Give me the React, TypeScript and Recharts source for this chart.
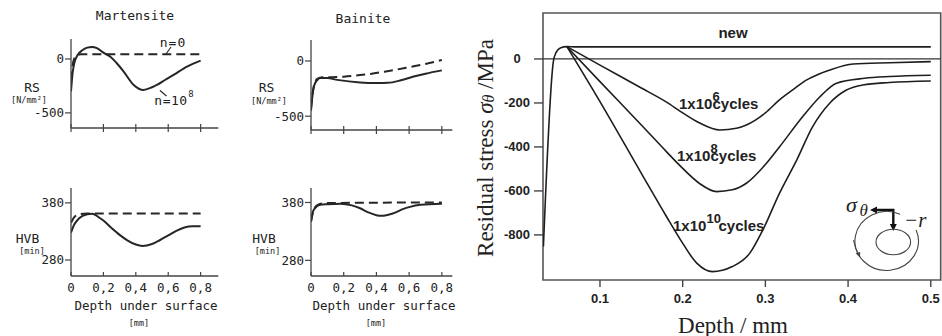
import { Line, LineChart, ReferenceArea, ReferenceLine, XAxis, YAxis } from "recharts";

const INK = "#222";
const MONO = "'DejaVu Sans Mono', monospace";
const SANS = "'Liberation Sans', Arial, sans-serif";
const SERIF = "'Liberation Serif', 'Times New Roman', serif";

// small panels (depth in mm)
const smallXTicks = [0, 0.2, 0.4, 0.6, 0.8];
const smallXLabels = ["0", "0,2", "0,4", "0,6", "0,8"];
const rsTicks = [0, -500];
const hvTicks = [380, 280];

const martRsSolidDepth = [0, 0.01, 0.02, 0.04, 0.07, 0.1, 0.13, 0.16, 0.2, 0.243, 0.28, 0.325, 0.387, 0.447, 0.5, 0.53, 0.58, 0.633, 0.716, 0.8];
const martRsSolid = [-300, -130, -40, 35, 80, 105, 112, 100, 58, 21, -35, -117, -241, -287, -262, -241, -195, -148, -71, -16];
const martRsDashDepth = [0, 0.01, 0.02, 0.04, 0.06, 0.1, 0.8];
const martRsDash = [-200, -60, 5, 35, 43, 43, 43];

const martHvSolidDepth = [0, 0.02, 0.05, 0.1, 0.13, 0.18, 0.2, 0.25, 0.3, 0.35, 0.4, 0.44, 0.5, 0.55, 0.6, 0.65, 0.7, 0.75, 0.8];
const martHvSolid = [328, 342, 353, 360, 361, 353, 349, 336, 324, 314, 307, 304.5, 308, 315, 323, 331, 337, 339, 339];
const martHvDashDepth = [0, 0.02, 0.05, 0.1, 0.8];
const martHvDash = [345, 355, 360, 361.5, 361.5];

const bainRsSolidDepth = [0, 0.01, 0.02, 0.04, 0.057, 0.1, 0.16, 0.3, 0.4, 0.47, 0.55, 0.628, 0.7, 0.8];
const bainRsSolid = [-450, -300, -220, -170, -155, -155, -171, -195, -200, -198, -175, -141, -115, -85];
const bainRsDashDepth = [0, 0.01, 0.02, 0.04, 0.07, 0.1, 0.16, 0.2, 0.3, 0.363, 0.45, 0.567, 0.7, 0.8];
const bainRsDash = [-430, -290, -210, -160, -148, -147, -146, -142, -128, -117, -97, -66, -27, 9];

const bainHvSolidDepth = [0, 0.016, 0.057, 0.1, 0.18, 0.25, 0.3, 0.35, 0.4, 0.43, 0.5, 0.566, 0.6, 0.67, 0.8];
const bainHvSolid = [347, 367, 376, 377, 378, 375, 370, 363, 358, 357, 361, 369, 372, 376, 378];
const bainHvDashDepth = [0, 0.02, 0.05, 0.1, 0.8];
const bainHvDash = [347, 370, 377, 379, 380];

// main panel (depth in mm, stress in MPa)
const mainXTicks = [0.1, 0.2, 0.3, 0.4, 0.5];
const mainYTicks = [0, -200, -400, -600, -800];

const newDepth = [0.0316, 0.0437, 0.047, 0.052, 0.06, 0.07, 0.5];
const newStress = [-853, -10, 30, 50, 56, 55, 55];

const c6Depth = [0.06, 0.1, 0.15, 0.18, 0.2, 0.22, 0.245, 0.265, 0.277, 0.3, 0.317, 0.335, 0.35, 0.365, 0.378, 0.406, 0.45, 0.5];
const c6Stress = [56, -28, -132, -195, -245, -290, -323, -315, -300, -245, -186, -135, -95, -68, -50, -23, -17, -12];

const c8Depth = [0.06, 0.1, 0.15, 0.18, 0.197, 0.22, 0.241, 0.26, 0.277, 0.3, 0.317, 0.345, 0.366, 0.386, 0.42, 0.45, 0.5];
const c8Stress = [56, -103, -300, -420, -486, -565, -603, -595, -565, -480, -400, -263, -172, -110, -88, -80, -74];

const c10Depth = [0.06, 0.1, 0.15, 0.18, 0.197, 0.217, 0.236, 0.26, 0.281, 0.297, 0.317, 0.338, 0.357, 0.378, 0.398, 0.418, 0.45, 0.5];
const c10Stress = [56, -194, -520, -714, -820, -928, -967, -944, -884, -777, -611, -459, -309, -200, -141, -118, -107, -100];

const rows = (xs: number[], ys: number[]) => xs.map((d, i) => ({ d, v: ys[i] }));

function SmallPanel(props: {
  plotLeft: number;
  plotTop: number;
  plotRight: number;
  plotBottom: number;
  xMax: number;
  yDomain: [number, number];
  yTicks: number[];
  solid: { d: number; v: number }[];
  dashed: { d: number; v: number }[];
  showXLabels: boolean;
}) {
  const padL = 50, padT = 4, padR = 4, axisH = 24;
  const w = padL + (props.plotRight - props.plotLeft) + padR;
  const h = padT + (props.plotBottom - props.plotTop) + axisH;
  return (
    <div style={{ position: "absolute", left: props.plotLeft - padL, top: props.plotTop - padT }}>
      <LineChart width={w} height={h} margin={{ top: padT, right: padR, left: 0, bottom: 0 }}>
        <XAxis
          type="number"
          dataKey="d"
          domain={[0, props.xMax]}
          ticks={smallXTicks}
          interval={0}
          height={axisH}
          tickSize={0}
          tickMargin={0}
          tickLine={false}
          allowDataOverflow
          axisLine={{ stroke: "#444", strokeWidth: 1.3 }}
          tick={(p: any) => (
            <g>
              <line
                x1={p.x}
                x2={p.x}
                y1={p.y - 4}
                y2={props.showXLabels ? p.y : p.y + 4}
                stroke="#444"
                strokeWidth={1.2}
              />
              {props.showXLabels && (
                <text x={p.x} y={p.y + 12} textAnchor="middle" dominantBaseline="central" fontSize={12.5} fontFamily={MONO} fill={INK}>
                  {smallXLabels[smallXTicks.indexOf(p.payload.value)]}
                </text>
              )}
            </g>
          )}
        />
        <YAxis
          type="number"
          domain={props.yDomain}
          ticks={props.yTicks}
          interval={0}
          width={padL}
          tickSize={0}
          tickMargin={0}
          tickLine={false}
          allowDataOverflow
          axisLine={{ stroke: "#444", strokeWidth: 1.3 }}
          tick={(p: any) => (
            <g>
              <line x1={p.x - 6} x2={p.x} y1={p.y} y2={p.y} stroke="#444" strokeWidth={1.2} />
              <text x={p.x - 7} y={p.y} textAnchor="end" dominantBaseline="central" fontSize={12.5} fontFamily={MONO} fill={INK}>
                {p.payload.value}
              </text>
            </g>
          )}
        />
        <Line data={props.dashed} dataKey="v" type="monotone" stroke="#262626" strokeWidth={2} strokeDasharray="9 5" dot={false} isAnimationActive={false} />
        <Line data={props.solid} dataKey="v" type="monotone" stroke="#262626" strokeWidth={2} dot={false} isAnimationActive={false} />
      </LineChart>
    </div>
  );
}

function MainPanel() {
  const xDomain: [number, number] = [0.0311, 0.512];
  const yDomain: [number, number] = [-1005, 209];
  const lineProps = { dataKey: "v", type: "monotone" as const, stroke: "#1e1e1e", strokeWidth: 1.6, dot: false, isAnimationActive: false };
  return (
    <div style={{ position: "absolute", left: 430, top: 0 }}>
      <LineChart width={512} height={336} margin={{ top: 13, right: 1.3, left: 0, bottom: 0 }}>
        <XAxis
          type="number"
          dataKey="d"
          domain={xDomain}
          ticks={mainXTicks}
          interval={0}
          height={56}
          tickSize={0}
          tickMargin={0}
          tickLine={false}
          axisLine={false}
          allowDataOverflow
          tick={(p: any) => (
            <g>
              <line x1={p.x} x2={p.x} y1={p.y} y2={p.y + 7} stroke="#444" strokeWidth={1.4} />
              <text x={p.x} y={p.y + 18} textAnchor="middle" dominantBaseline="central" fontSize={13} fontWeight="bold" fontFamily={SANS} fill={INK}>
                {p.payload.value}
              </text>
            </g>
          )}
        />
        <YAxis
          type="number"
          domain={yDomain}
          ticks={mainYTicks}
          interval={0}
          width={113}
          tickSize={0}
          tickMargin={0}
          tickLine={false}
          axisLine={false}
          allowDataOverflow
          tick={(p: any) => (
            <g>
              <line x1={p.x - 9} x2={p.x} y1={p.y} y2={p.y} stroke="#444" strokeWidth={1.4} />
              <text x={p.x - 26} y={p.y} textAnchor="middle" dominantBaseline="central" fontSize={13} fontWeight="bold" fontFamily={SANS} fill={INK}>
                {p.payload.value}
              </text>
            </g>
          )}
        />
        <ReferenceArea x1={xDomain[0]} x2={xDomain[1]} y1={yDomain[0]} y2={yDomain[1]} fill="none" stroke="#555" strokeWidth={1.6} fillOpacity={0} />
        <ReferenceLine y={0} stroke="#333" strokeWidth={1.3} />
        <Line data={rows(newDepth, newStress)} {...lineProps} />
        <Line data={rows(c6Depth, c6Stress)} {...lineProps} />
        <Line data={rows(c8Depth, c8Stress)} {...lineProps} />
        <Line data={rows(c10Depth, c10Stress)} {...lineProps} />
      </LineChart>
    </div>
  );
}

function CycleLabel({ x, y, exp, gap }: { x: number; y: number; exp: string; gap: number }) {
  const base = { fontSize: 15, fontWeight: "bold" as const, fontFamily: SANS, fill: INK };
  return (
    <g>
      <text x={x} y={y} {...base}>1x10</text>
      <text x={x + 33.5} y={y - 8.5} {...base} fontSize={13}>{exp}</text>
      <text x={x + 33.5 + gap} y={y} {...base}>cycles</text>
    </g>
  );
}

function Overlay() {
  const mono = { fontFamily: MONO, fill: INK, textAnchor: "middle" as const, dominantBaseline: "central" as const };
  return (
    <svg width={942} height={336} style={{ position: "absolute", left: 0, top: 0, pointerEvents: "none" }}>
      {/* left panel titles and axis labels */}
      <text x={135} y={15} fontSize={13} {...mono}>Martensite</text>
      <text x={363} y={18} fontSize={13} {...mono}>Bainite</text>

      <text x={32} y={87} fontSize={13} {...mono}>RS</text>
      <text x={29} y={100} fontSize={8.5} {...mono}>[N/mm²]</text>
      <text x={27.5} y={238} fontSize={13} {...mono}>HVB</text>
      <text x={32} y={250.5} fontSize={8.5} {...mono}>[min]</text>

      <text x={266.5} y={87} fontSize={13} {...mono}>RS</text>
      <text x={269} y={100.5} fontSize={8.5} {...mono}>[N/mm²]</text>
      <text x={264} y={238} fontSize={13} {...mono}>HVB</text>
      <text x={267.5} y={250.5} fontSize={8.5} {...mono}>[min]</text>

      <text x={146} y={305} fontSize={12.5} {...mono}>Depth under surface</text>
      <text x={139} y={323} fontSize={8.5} {...mono}>[mm]</text>
      <text x={384} y={305.5} fontSize={12.5} {...mono}>Depth under surface</text>
      <text x={376} y={323} fontSize={8.5} {...mono}>[mm]</text>

      <text x={173} y={42} fontSize={13} letterSpacing={1} {...mono}>n=0</text>
      <line x1={171} y1={47} x2={166} y2={54} stroke={INK} strokeWidth={1.1} />
      <text x={171} y={100} fontSize={13} letterSpacing={0.5} {...mono}>n=10</text>
      <text x={191} y={94} fontSize={9} {...mono}>8</text>
      <line x1={160} y1={90.5} x2={166.5} y2={96} stroke={INK} strokeWidth={1.1} />

      {/* main panel axis titles */}
      <text x={733} y={325} fontSize={23} fontFamily={SERIF} fill={INK} textAnchor="middle" dominantBaseline="central">Depth / mm</text>
      <text
        x={485}
        y={148}
        fontSize={23}
        fontFamily={SERIF}
        fill={INK}
        textAnchor="middle"
        dominantBaseline="central"
        transform="rotate(-90 485 148)"
      >
        Residual stress <tspan fontStyle="italic">σ</tspan>
        <tspan fontStyle="italic" fontSize={16} dy={3}>θ</tspan>
        <tspan dy={-3}> /MPa</tspan>
      </text>

      {/* curve labels */}
      <text x={733} y={37.5} fontSize={15} fontWeight="bold" fontFamily={SANS} fill={INK} textAnchor="middle">new</text>
      <CycleLabel x={679} y={109} exp="6" gap={0} />
      <CycleLabel x={677} y={161} exp="8" gap={0} />
      <CycleLabel x={673} y={231} exp="10" gap={12} />

      {/* polar sketch */}
      <text x={846} y={212} fontSize={22} fontStyle="italic" fontFamily={SERIF} fill={INK}>σ</text>
      <text x={859.5} y={215.5} fontSize={17} fontStyle="italic" fontFamily={SERIF} fill={INK}>θ</text>
      <polyline points="876,210 893.3,210 893.3,225" fill="none" stroke="#111" strokeWidth={2.4} />
      <polygon points="870,210 877,206.5 877,213.5" fill="#111" />
      <polygon points="893.3,231 889.8,224 896.8,224" fill="#111" />
      <text x={904} y={227} fontSize={21} fontStyle="italic" fontFamily={SERIF} fill={INK}>−r</text>
      <path d="M 900 214.2 A 31.7 29.5 0 1 0 916.1 230" fill="none" stroke="#444" strokeWidth={1.1} />
      <ellipse cx={893.3} cy={242} rx={17.3} ry={12.8} fill="none" stroke="#444" strokeWidth={1.1} />
      <path d="M 853.5 240 Q 855 249 858.5 254" fill="none" stroke="#444" strokeWidth={1} />
      <polygon points="860,257.5 855.6,253.3 860.2,252" fill="#444" />
    </svg>
  );
}

export default function App() {
  return (
    <div style={{ position: "absolute", left: 0, top: 0, width: 942, height: 336, background: "#fff" }}>
      <SmallPanel
        plotLeft={70.7}
        plotTop={39}
        plotRight={218}
        plotBottom={128}
        xMax={0.909}
        yDomain={[-640, 185]}
        yTicks={rsTicks}
        solid={rows(martRsSolidDepth, martRsSolid)}
        dashed={rows(martRsDashDepth, martRsDash)}
        showXLabels={false}
      />
      <SmallPanel
        plotLeft={70.7}
        plotTop={188}
        plotRight={218}
        plotBottom={276}
        xMax={0.909}
        yDomain={[252, 406]}
        yTicks={hvTicks}
        solid={rows(martHvSolidDepth, martHvSolid)}
        dashed={rows(martHvDashDepth, martHvDash)}
        showXLabels={true}
      />
      <SmallPanel
        plotLeft={310.7}
        plotTop={40}
        plotRight={452}
        plotBottom={130}
        xMax={0.864}
        yDomain={[-625, 190]}
        yTicks={rsTicks}
        solid={rows(bainRsSolidDepth, bainRsSolid)}
        dashed={rows(bainRsDashDepth, bainRsDash)}
        showXLabels={false}
      />
      <SmallPanel
        plotLeft={310.7}
        plotTop={188}
        plotRight={452}
        plotBottom={276}
        xMax={0.864}
        yDomain={[253, 405]}
        yTicks={hvTicks}
        solid={rows(bainHvSolidDepth, bainHvSolid)}
        dashed={rows(bainHvDashDepth, bainHvDash)}
        showXLabels={true}
      />
      <MainPanel />
      <Overlay />
    </div>
  );
}
